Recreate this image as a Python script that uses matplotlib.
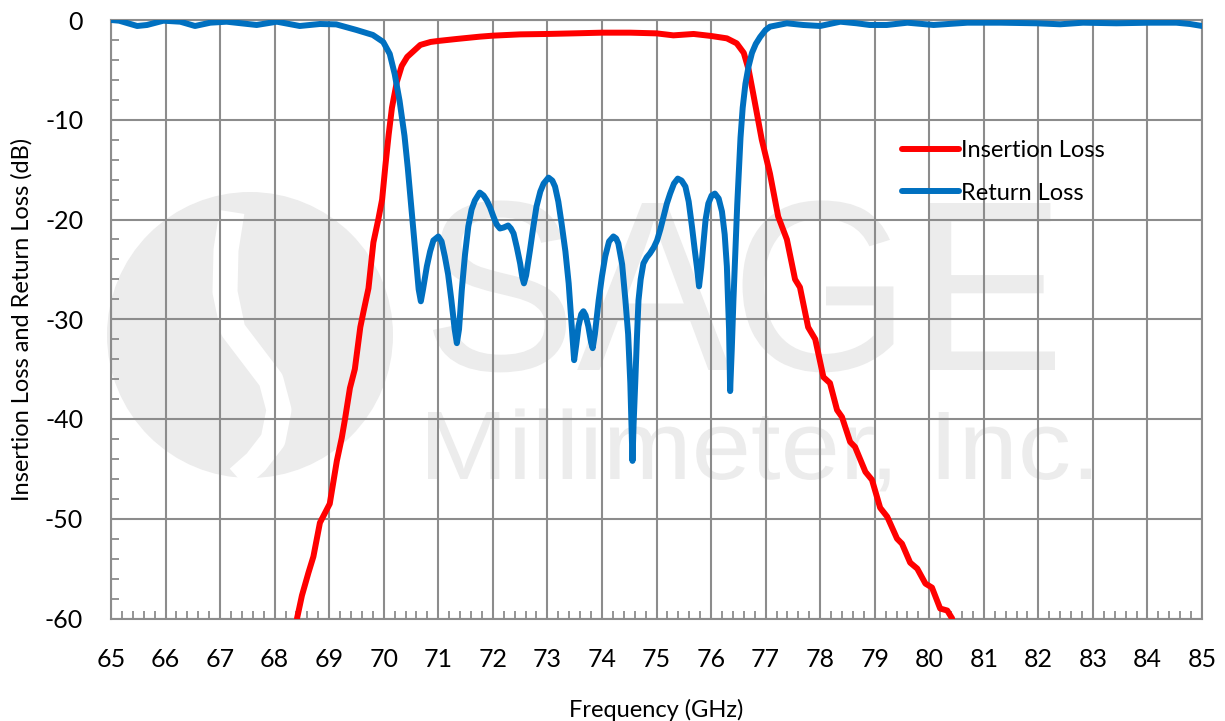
import matplotlib
matplotlib.use("Agg")
import matplotlib.pyplot as plt
import numpy as np
from matplotlib.patches import Circle, PathPatch
from matplotlib.textpath import TextPath
from matplotlib.font_manager import FontProperties
from matplotlib.transforms import Affine2D
from matplotlib.ticker import MultipleLocator

# Insertion loss (S21)
il_freq = [68.41, 68.50, 68.62, 68.71, 68.83, 69.01, 69.14, 69.23, 69.29, 69.38,
           69.47, 69.57, 69.63, 69.72, 69.81, 69.90, 69.97, 70.03, 70.09, 70.15,
           70.24, 70.33, 70.43, 70.55, 70.67, 70.86, 71.00, 71.34, 71.76, 72.00,
           72.50, 73.00, 73.48, 74.00, 74.52, 75.00, 75.31, 75.68, 76.00, 76.29,
           76.47, 76.60, 76.69, 76.77, 76.93, 77.08, 77.23, 77.39, 77.54, 77.63,
           77.78, 77.91, 78.06, 78.18, 78.31, 78.40, 78.55, 78.64, 78.83, 78.95,
           79.10, 79.23, 79.41, 79.50, 79.65, 79.78, 79.93, 80.05, 80.20, 80.33,
           80.42]
il_db = [-60.0, -57.7, -55.4, -53.8, -50.4, -48.5, -44.2, -41.9, -40.0, -36.9,
         -35.0, -30.8, -29.2, -26.9, -22.3, -20.0, -18.0, -14.6, -11.5, -8.8,
         -6.2, -4.6, -3.7, -3.1, -2.5, -2.2, -2.1, -1.9, -1.67, -1.57,
         -1.44, -1.4, -1.34, -1.27, -1.27, -1.34, -1.54, -1.4, -1.6, -1.84,
         -2.34, -3.3, -5.0, -7.3, -12.0, -15.4, -19.7, -22.0, -26.0, -26.8,
         -30.8, -32.0, -35.8, -36.4, -39.1, -39.8, -42.3, -42.8, -45.3, -46.1,
         -48.9, -49.8, -52.0, -52.5, -54.4, -55.0, -56.5, -56.9, -59.0, -59.2,
         -60.0]

# Return loss (S11)
rl_freq = [65.00, 65.15, 65.48, 65.66, 65.96, 66.27, 66.54, 66.82, 67.12, 67.67,
           68.04, 68.46, 68.83, 69.13, 69.50, 69.80, 69.99, 70.11, 70.20, 70.29,
           70.38, 70.44, 70.50, 70.55, 70.60, 70.64, 70.68, 70.72, 70.79, 70.85,
           70.91, 71.00, 71.06, 71.12, 71.18, 71.24, 71.30, 71.34, 71.38, 71.43,
           71.49, 71.55, 71.61, 71.67, 71.76, 71.83, 71.89, 71.95, 72.01, 72.07,
           72.13, 72.20, 72.28, 72.33, 72.38, 72.44, 72.50, 72.54, 72.57, 72.61,
           72.68, 72.74, 72.80, 72.87, 72.93, 73.02, 73.09, 73.14, 73.20, 73.26,
           73.33, 73.39, 73.45, 73.49, 73.53, 73.57, 73.62, 73.66, 73.70, 73.75,
           73.80, 73.83, 73.87, 73.94, 74.00, 74.06, 74.13, 74.21, 74.26, 74.30,
           74.37, 74.43, 74.48, 74.52, 74.54, 74.56, 74.58, 74.61, 74.64, 74.67,
           74.71, 74.76, 74.82, 74.88, 74.95, 75.01, 75.07, 75.13, 75.19, 75.25,
           75.32, 75.39, 75.46, 75.53, 75.59, 75.65, 75.70, 75.74, 75.78, 75.82,
           75.86, 75.90, 75.95, 76.01, 76.07, 76.14, 76.20, 76.25, 76.29, 76.33,
           76.35, 76.38, 76.41, 76.45, 76.48, 76.54, 76.58, 76.63, 76.69, 76.75,
           76.82, 76.90, 77.00, 77.08, 77.39, 77.69, 78.00, 78.37, 78.67, 78.91,
           79.22, 79.60, 80.08, 80.70, 81.30, 81.97, 82.40, 82.82, 83.43, 84.05,
           84.53, 84.78, 85.00]
rl_db = [0.0, -0.07, -0.6, -0.5, -0.07, -0.17, -0.6, -0.27, -0.17, -0.5,
         -0.17, -0.6, -0.4, -0.44, -1.0, -1.5, -2.2, -3.4, -5.4, -8.1,
         -11.6, -14.8, -18.5, -21.5, -24.5, -27.0, -28.2, -27.0, -24.7, -23.2,
         -22.1, -21.7, -22.2, -23.7, -25.5, -28.1, -31.0, -32.4, -31.0, -27.1,
         -23.5, -20.7, -19.0, -18.1, -17.3, -17.6, -18.1, -18.8, -19.7, -20.5,
         -20.9, -20.8, -20.6, -20.9, -21.4, -22.8, -24.4, -25.8, -26.4, -25.6,
         -23.1, -20.8, -18.7, -17.2, -16.4, -15.8, -16.1, -16.7, -18.2, -20.4,
         -23.2, -26.4, -31.0, -34.1, -32.5, -30.7, -29.5, -29.2, -29.6, -30.7,
         -32.3, -32.9, -31.5, -28.1, -25.7, -23.7, -22.2, -21.7, -21.9, -22.4,
         -24.5, -28.1, -31.5, -36.4, -40.5, -44.2, -40.5, -36.4, -32.0, -28.1,
         -26.0, -24.4, -23.8, -23.4, -22.8, -22.1, -21.0, -19.7, -18.4, -17.4,
         -16.4, -15.9, -16.1, -16.7, -18.2, -20.7, -23.0, -24.7, -26.7, -24.8,
         -22.4, -20.0, -18.4, -17.6, -17.4, -17.9, -19.2, -21.5, -24.7, -31.0,
         -37.2, -33.0, -28.1, -22.5, -18.5, -11.8, -8.8, -6.4, -4.6, -3.3,
         -2.4, -1.7, -1.0, -0.67, -0.33, -0.5, -0.6, -0.17, -0.33, -0.5,
         -0.5, -0.27, -0.5, -0.27, -0.27, -0.33, -0.43, -0.27, -0.33, -0.27,
         -0.27, -0.4, -0.6]

W, H = 1225, 721
plt.rcParams['font.family'] = ['Lato', 'DejaVu Sans']
plt.rcParams['axes.unicode_minus'] = False
fig = plt.figure(figsize=(W / 100, H / 100), dpi=100)

# watermark layer in pixel coordinates
bg = fig.add_axes([0, 0, 1, 1], zorder=0)
bg.set_xlim(0, W)
bg.set_ylim(H, 0)
bg.axis("off")
wm = "#ececec"
bg.add_patch(Circle((250, 335), 143, color=wm, lw=0))
sx_pts = np.array([232, 226, 225, 233, 252, 271, 279, 273, 256, 238])
sy_pts = np.array([212, 250, 292, 330, 355, 380, 410, 440, 462, 478])
bg.plot(sx_pts, sy_pts, color="white", lw=18, solid_capstyle="butt")

fp = FontProperties(family="Liberation Sans")


def fit_text(s, x0, x1, base, cap):
    tp = TextPath((0, 0), s, size=1, prop=fp)
    capm = TextPath((0, 0), "E", size=1, prop=fp).get_extents().ymax
    ext = tp.get_extents()
    sx = (x1 - x0) / (ext.xmax - ext.xmin)
    sy = cap / capm
    tr = Affine2D().translate(-ext.xmin, 0).scale(sx, -sy).translate(x0, base)
    bg.add_patch(PathPatch(tp, transform=tr + bg.transData, color=wm, lw=0))


fit_text("SAGE", 433, 1055, 370, 167)
fit_text("Millimeter, Inc.", 428, 1091, 479, 67)

ax = fig.add_axes([111 / W, 1 - 618.5 / H, (1202 - 111) / W, (618.5 - 20) / H], zorder=1)
ax.set_facecolor("none")
ax.plot(il_freq, il_db, color="#ff0000", lw=4.3, label="Insertion Loss",
        solid_capstyle="round", solid_joinstyle="round", zorder=3)
ax.plot(rl_freq, rl_db, color="#0070c0", lw=4.3, label="Return Loss",
        solid_capstyle="round", solid_joinstyle="round", zorder=4)

ax.set_xlim(65, 85)
ax.set_ylim(-60, 0)
ax.xaxis.set_major_locator(MultipleLocator(1))
ax.xaxis.set_minor_locator(MultipleLocator(0.2))
ax.yaxis.set_major_locator(MultipleLocator(10))
ax.yaxis.set_minor_locator(MultipleLocator(2))
gc = "#8c8c8c"
ax.grid(True, which="major", color=gc, lw=1.5)
ax.set_axisbelow(True)
for sp in ax.spines.values():
    sp.set_color(gc)
    sp.set_linewidth(1.5)
ax.tick_params(which="major", length=0, labelsize=18)
ax.tick_params(axis="x", which="major", pad=21)
ax.tick_params(axis="y", which="major", pad=20)
ax.tick_params(which="minor", direction="in", length=6, width=1.3, color=gc)

ax.set_xlabel("Frequency (GHz)", fontsize=17, labelpad=20)
ax.set_ylabel("Insertion Loss and Return Loss (dB)", fontsize=17, labelpad=9)

ax.legend(loc="center left", bbox_to_anchor=(902 / W, 1 - 172 / H),
          bbox_transform=fig.transFigure, frameon=False, fontsize=17,
          handlelength=2.4, handletextpad=0.1, labelspacing=0.9,
          borderpad=0, borderaxespad=0)

fig.savefig("out.png", dpi=100)
